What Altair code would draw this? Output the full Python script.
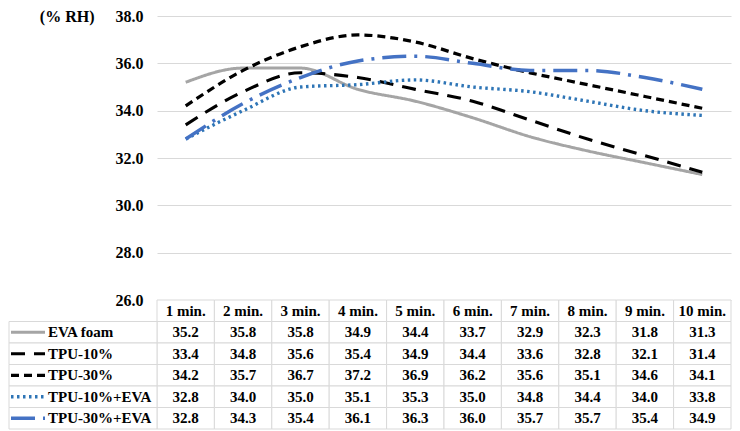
import altair as alt
import pandas as pd

categories = ["1 min.", "2 min.", "3 min.", "4 min.", "5 min.",
              "6 min.", "7 min.", "8 min.", "9 min.", "10 min."]
series = ["EVA foam", "TPU-10%", "TPU-30%", "TPU-10%+EVA", "TPU-30%+EVA"]
eva_foam = [35.2, 35.8, 35.8, 34.9, 34.4, 33.7, 32.9, 32.3, 31.8, 31.3]
tpu_10 = [33.4, 34.8, 35.6, 35.4, 34.9, 34.4, 33.6, 32.8, 32.1, 31.4]
tpu_30 = [34.2, 35.7, 36.7, 37.2, 36.9, 36.2, 35.6, 35.1, 34.6, 34.1]
tpu_10_eva = [32.8, 34.0, 35.0, 35.1, 35.3, 35.0, 34.8, 34.4, 34.0, 33.8]
tpu_30_eva = [32.8, 34.3, 35.4, 36.1, 36.3, 36.0, 35.7, 35.7, 35.4, 34.9]
y_ticks = [26.0, 28.0, 30.0, 32.0, 34.0, 36.0, 38.0]
y_title = "(% RH)"

colors = ["#a5a5a5", "#000000", "#000000", "#2e75b6", "#4472c4"]
dashes = [[1, 0], [14, 9], [8, 5], [2.5, 3.5], [24, 8, 3, 8]]
widths = [3, 3.5, 3.5, 3, 3]

FONT = "'Liberation Serif', 'Times New Roman', Times, serif"
GRID = "#d9d9d9"
PLOT_W = 574
PLOT_H = 284
ROW_H = 21.5

values = [eva_foam, tpu_10, tpu_30, tpu_10_eva, tpu_30_eva]
long = pd.DataFrame([
    {"series": s, "cat": c, "val": v, "label": f"{v:.1f}"}
    for s, vals in zip(series, values) for c, v in zip(categories, vals)
])
header = pd.DataFrame([{"series": "hdr", "cat": c, "label": c} for c in categories])
table_df = pd.concat([header, long[["series", "cat", "label"]]], ignore_index=True)
legend_df = pd.DataFrame({"series": series})

color = alt.Color("series:N", scale=alt.Scale(domain=series, range=colors), legend=None)
dash = alt.StrokeDash("series:N", scale=alt.Scale(domain=series, range=dashes), legend=None)
swidth = alt.StrokeWidth("series:N", scale=alt.Scale(domain=series, range=widths), legend=None)

top = alt.Chart(long).mark_line(interpolate="monotone").encode(
    x=alt.X("cat:N", sort=categories,
            scale=alt.Scale(type="point", domain=categories, padding=0.5), axis=None),
    y=alt.Y("val:Q", scale=alt.Scale(domain=[26, 38], nice=False, zero=False),
            axis=alt.Axis(values=y_ticks, format=".1f", grid=True, gridColor=GRID,
                          gridWidth=1, domain=False, ticks=False, labelPadding=14,
                          labelFont=FONT, labelFontSize=16, labelFontWeight="bold",
                          labelColor="black", title=y_title, titleAngle=0,
                          titleAlign="right", titleBaseline="middle", titleX=-63,
                          titleY=0, titleFont=FONT, titleFontSize=16,
                          titleFontWeight="bold", titleColor="black")),
    color=color,
    strokeDash=dash,
    strokeWidth=swidth,
).properties(width=PLOT_W, height=PLOT_H)

rows = ["hdr"] + series
xb = alt.X("cat:N", sort=categories,
           scale=alt.Scale(domain=categories, paddingInner=0, paddingOuter=0), axis=None)
yb = alt.Y("series:N", sort=rows,
           scale=alt.Scale(domain=rows, paddingInner=0, paddingOuter=0), axis=None)

cells = alt.Chart(table_df).mark_rect(fill="white", stroke=GRID, strokeWidth=1).encode(
    x=xb, y=yb)
cell_text = alt.Chart(table_df).mark_text(font=FONT, fontSize=15, fontWeight="bold",
                                          color="black").encode(
    x=xb, y=yb, text="label:N")
leg_cells = alt.Chart(legend_df).mark_rect(fill="white", stroke=GRID, strokeWidth=1).encode(
    x=alt.value(-148), x2=alt.value(0), y=yb)
leg_lines = alt.Chart(legend_df).mark_rule().encode(
    x=alt.value(-146), x2=alt.value(-112), y=yb,
    color=color, strokeDash=dash, strokeWidth=swidth)
leg_text = alt.Chart(legend_df).mark_text(font=FONT, fontSize=15, fontWeight="bold",
                                          color="black", align="left").encode(
    x=alt.value(-109), y=yb, text="series:N")

table = alt.layer(cells, cell_text, leg_cells, leg_lines, leg_text).properties(
    width=PLOT_W, height=ROW_H * len(rows))

chart = alt.vconcat(top, table, spacing=0, bounds="flush").resolve_scale(
    x="independent", y="independent"
).configure_view(strokeOpacity=0).properties(
    padding={"left": 0, "top": 0, "right": 0, "bottom": 0})

chart.save("out.html", embed_options={"renderer": "svg", "actions": False})
